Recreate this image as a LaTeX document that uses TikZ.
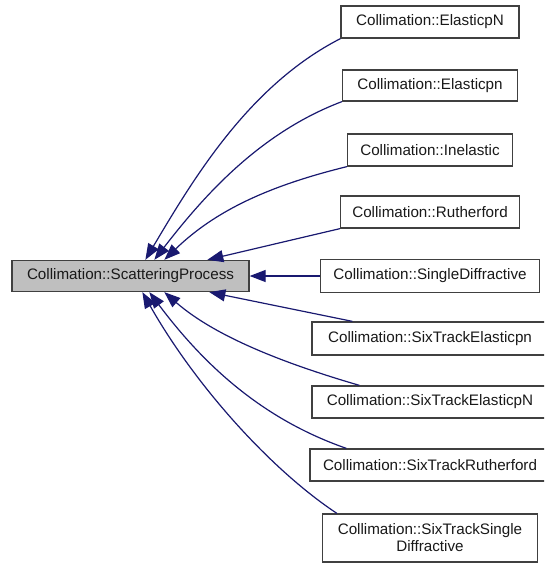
\documentclass[tikz,border=0pt]{standalone}
\usepackage{fontspec}
\setmainfont{Liberation Sans}
\usetikzlibrary{arrows.meta}
\definecolor{edgeblue}{HTML}{191970}
\definecolor{boxline}{HTML}{404040}
\definecolor{basefill}{HTML}{BFBFBF}
\tikzset{
  cls/.style={draw=boxline, line width=1.3pt, fill=white, inner sep=0pt, minimum height=32pt,
    font=\fontsize{15.2}{17}\selectfont, text=black!90, anchor=center, align=center},
  inh/.style={draw=edgeblue, line width=1.2pt, -{Triangle[length=16pt,width=12pt]}, color=edgeblue}
}
\begin{document}
\begin{tikzpicture}[x=1pt,y=-1pt]
\useasboundingbox (0,0) rectangle (544,565);
\clip (0,0) rectangle (544,565);
\fill[white] (0,0) rectangle (544,565);
\node[cls, fill=basefill, minimum width=237pt, minimum height=31pt] (base) at (130.5,276) {Collimation::ScatteringProcess};
\node[cls, minimum width=178pt] (n1) at (430,22) {Collimation::ElasticpN};
\node[cls, minimum width=175pt, minimum height=31pt] (n2) at (430,85.5) {Collimation::Elasticpn};
\node[cls, minimum width=165pt] (n3) at (430,150) {Collimation::Inelastic};
\node[cls, minimum width=179pt] (n4) at (430,212) {Collimation::Rutherford};
\node[cls, minimum width=219pt, minimum height=33pt] (n5) at (430,276) {Collimation::SingleDiffractive};
\node[cls, minimum width=236pt, minimum height=33pt] (n6) at (430,338.5) {Collimation::SixTrackElasticpn};
\node[cls, minimum width=236pt] (n7) at (430,402) {Collimation::SixTrackElasticpN};
\node[cls, minimum width=240pt] (n8) at (430,465) {Collimation::SixTrackRutherford};
\node[cls, minimum width=215pt, minimum height=48pt] (n9) at (430,538) {Collimation::SixTrackSingle\\Diffractive};

\draw[inh] (n1.south west) .. controls (250,85) and (195,176) .. ([xshift=134pt]base.north west);
\draw[inh] (n2.south west) .. controls (259,133) and (203,197) .. ([xshift=143pt]base.north west);
\draw[inh] (n3.south west) .. controls (268,186) and (215,211) .. ([xshift=153pt]base.north west);
\draw[inh] (n4.south west) -- ([xshift=196pt]base.north west);
\draw[inh] (n5.west) -- (base.east);
\draw[inh] ([xshift=41pt]n6.north west) -- ([xshift=198pt]base.south west);
\draw[inh] ([xshift=48pt]n7.north west) .. controls (293,366) and (218,339) .. ([xshift=153pt]base.south west);
\draw[inh] ([xshift=37pt]n8.north west) .. controls (262,419) and (204,365) .. ([xshift=138pt]base.south west);
\draw[inh] ([xshift=15pt]n9.north west) .. controls (270,469) and (195,385) .. ([xshift=131pt]base.south west);
\end{tikzpicture}
\end{document}
